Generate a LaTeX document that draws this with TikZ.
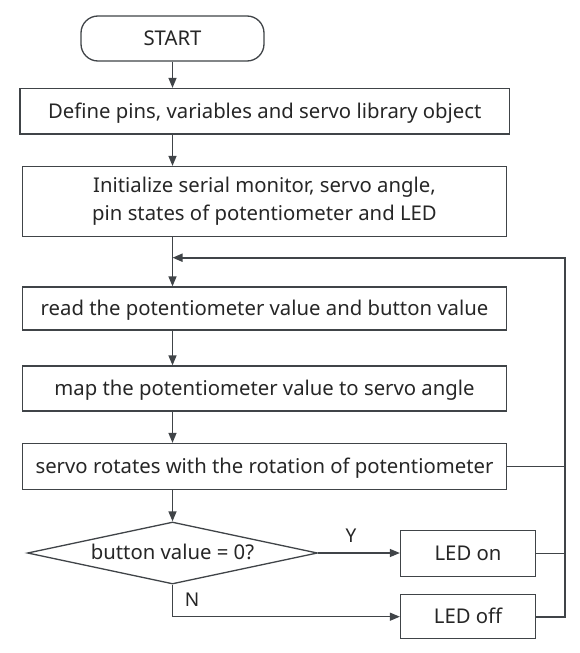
\documentclass[tikz,border=0pt]{standalone}
\usepackage{fontspec}
\setmainfont{Noto Sans}
\usetikzlibrary{shapes.geometric,arrows.meta}
\definecolor{ln}{HTML}{404448}
\definecolor{tx}{HTML}{262626}
\tikzset{
  box/.style={draw=ln, line width=1.3pt, rectangle, inner sep=0pt, align=center, text=tx, font=\fontsize{20.3}{28}\selectfont},
  one/.style={text height=14.5pt, text depth=1pt},
  term/.style={box, one, rounded corners=17pt},
  dec/.style={draw=ln, line width=1.3pt, diamond, shape aspect=4.68, inner sep=0pt, text=tx, font=\fontsize{20.3}{28}\selectfont, one},
  conn/.style={draw=ln, line width=1.3pt},
  arr/.style={conn, -{Triangle[length=10pt,width=8pt]}},
  lbl/.style={text=tx, font=\fontsize{19}{22}\selectfont, inner sep=0pt}
}
\begin{document}
\begin{tikzpicture}[x=1pt,y=-1pt]
\useasboundingbox[fill=white] (0,0) rectangle (580,653);
\node[term, minimum width=183pt, minimum height=45pt] (start) at (172.5,38.5) {START};
\node[box, one, minimum width=489.5pt, minimum height=45.5pt] (define) at (264.75,111.25) {Define pins, variables and servo library object};
\node[box, minimum width=484pt, minimum height=70pt] (init) at (264.5,201.5) {Initialize serial monitor, servo angle,\\pin states of potentiometer and LED};
\node[box, one, minimum width=484pt, minimum height=43pt] (read) at (264.5,308.5) {read the potentiometer value and button value};
\node[box, one, minimum width=484pt, minimum height=45pt] (map) at (264.5,388.5) {map the potentiometer value to servo angle};
\node[box, one, minimum width=484pt, minimum height=46pt] (servo) at (264.5,466.5) {servo rotates with the rotation of potentiometer};
\node[dec, minimum width=290pt, minimum height=62pt] (btn) at (172.5,553) {button value = 0?};
\node[box, one, minimum width=135pt, minimum height=45.5pt] (ledon) at (468,553.5) {LED on};
\node[box, one, minimum width=135pt, minimum height=44pt] (ledoff) at (468,616.7) {LED off};
\node[lbl] (ylab) at (351,536) {Y};
\node[lbl] (nlab) at (192,600) {N};
\coordinate (join) at (172.5,257.7);
\coordinate (rtop) at (565,257.7);
\coordinate (rbot) at (565,616.7);
\coordinate (nbend) at (172.5,616.7);
\draw[arr] (start.south) -- (start.south |- define.north);
\draw[arr] (start.south |- define.south) -- (start.south |- init.north);
\draw[arr] (start.south |- init.south) -- (start.south |- read.north);
\draw[arr] (start.south |- read.south) -- (start.south |- map.north);
\draw[arr] (start.south |- map.south) -- (start.south |- servo.north);
\draw[arr] (start.south |- servo.south) -- (btn.north);
\draw[arr] (btn.east) -- (ledon.west |- btn.east);
\draw[arr] (btn.south) -- (nbend) -- (ledoff.west);
\draw[conn] (servo.east) -- (rtop |- servo.east);
\draw[conn] (ledon.east) -- (rtop |- ledon.east);
\draw[arr, line width=1.8pt] (ledoff.east) -- (rbot) -- (rtop) -- (join);
\end{tikzpicture}
\end{document}
